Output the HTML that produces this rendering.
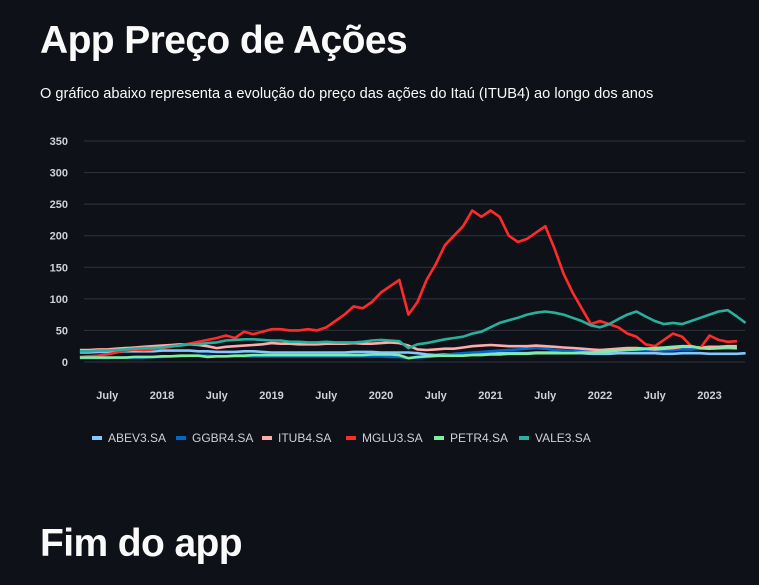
<!DOCTYPE html>
<html><head><meta charset="utf-8"><style>
body{margin:0;background:#0e1117;width:759px;height:585px;overflow:hidden;font-family:"Liberation Sans",sans-serif;color:#fafafa;position:relative}
h1{position:absolute;left:40px;margin:0;font-size:39px;font-weight:bold;letter-spacing:-0.6px}
#sub{position:absolute;left:40px;top:86px;font-size:14.6px}
svg{position:absolute;left:0;top:0}
</style></head><body>
<h1 style="top:19px">App Preço de Ações</h1>
<div id="sub">O gráfico abaixo representa a evolução do preço das ações do Itaú (ITUB4) ao longo dos anos</div>
<svg id="chart" width="759" height="585"></svg>
<h1 style="top:522px">Fim do app</h1>
<script>
const startYear = 2017.25; // monthly data from Apr 2017
const yTicks = [0,50,100,150,200,250,300,350];
const xTickLabels = ["July","2018","July","2019","July","2020","July","2021","July","2022","July","2023"];
const xTickDates = [2017.5,2018,2018.5,2019,2019.5,2020,2020.5,2021,2021.5,2022,2022.5,2023];
const seriesNames = ["ABEV3.SA","GGBR4.SA","ITUB4.SA","MGLU3.SA","PETR4.SA","VALE3.SA"];
const seriesColors = ["#83c9ff","#0068c9","#ffabab","#ff2b2b","#7defa1","#29b09d"];
const abev = [15,15,16,16,16,17,17,17,17,18,18,18,18,17,17,16,16,16,17,17,16,15,15,15,15,15,15,15,15,15,16,16,16,15,15,15,15,14,12,11,12,12,12,12,13,13,14,14,14,14,15,15,15,14,14,14,13,13,13,14,14,14,14,14,13,13,14,14,14,13,13,13,13,14];
const ggbr = [6,6,6,6,7,7,7,7,8,8,9,9,10,10,10,9,9,9,9,9,9,9,9,9,9,9,9,9,9,9,9,9,9,9,8,8,6,7,8,9,11,13,14,15,16,17,18,19,20,21,22,21,19,18,17,17,18,19,20,20,19,19,19,18,18,19,20,20,21,21,21,21,21];
const itub = [19,19,20,20,21,22,23,24,25,26,27,28,28,27,25,22,24,25,26,27,28,30,29,29,28,28,28,29,29,29,30,29,29,30,31,30,26,20,19,20,21,21,23,25,26,27,26,25,25,25,26,25,24,23,22,21,20,19,20,21,22,22,21,20,21,22,24,24,23,24,24,25,25];
const mglu = [8,9,10,12,15,18,20,19,20,22,24,27,29,32,35,38,42,38,48,44,48,52,52,50,50,52,50,55,65,75,88,85,95,110,120,130,75,95,130,155,185,200,215,240,230,240,230,200,190,195,205,215,180,140,110,85,60,65,60,55,45,40,28,25,35,45,40,25,22,42,35,32,33];
const petr = [7,7,7,7,7,7,8,8,8,9,9,10,10,10,8,9,9,10,10,11,11,11,11,11,11,11,11,11,11,11,11,11,12,12,12,11,6,8,9,10,10,10,10,11,11,12,12,13,13,13,14,14,14,14,14,15,15,16,17,18,19,20,21,22,23,24,25,25,22,21,22,23,22];
const vale = [17,17,18,18,19,20,21,22,22,23,25,26,28,28,30,31,34,35,36,36,35,34,34,32,32,31,31,32,31,31,31,32,34,35,34,33,22,28,30,33,36,38,40,45,48,55,62,66,70,75,78,80,78,75,70,65,58,55,60,68,75,80,72,65,60,62,60,65,70,75,80,82,72,62];
const seriesData = [abev,ggbr,itub,mglu,petr,vale];

const X0=84,X1=745,Y0=362,Ymax=350,Ytop=141;
const pxPerYear=109.5;
function xScale(t){return 162+(t-2018)*pxPerYear;}
function yScale(v){return Y0-(v/Ymax)*(Y0-Ytop);}
const NS="http://www.w3.org/2000/svg";
const svg=document.getElementById('chart');
function mk(tag,attrs){const e=document.createElementNS(NS,tag);for(const k in attrs)e.setAttribute(k,attrs[k]);svg.appendChild(e);return e;}
yTicks.forEach(v=>{
  const l=mk('line',{x1:X0,x2:X1,y1:yScale(v),y2:yScale(v),stroke:'#31333f','stroke-width':1});
  
  
  const t=mk('text',{x:68,y:yScale(v)+4,'text-anchor':'end',fill:'#d0d0d8','font-size':11,'font-weight':'bold','font-family':'Liberation Sans, sans-serif'});
  t.textContent=v;
  
  
});
xTickDates.forEach((d,i)=>{
  const t=mk('text',{x:xScale(d),y:399,'text-anchor':'middle',fill:'#d0d0d8','font-size':11,'font-weight':'bold','font-family':'Liberation Sans, sans-serif'});
  t.textContent=xTickLabels[i];
  
  
});
seriesData.forEach((arr,si)=>{
  const pts=arr.map((v,i)=>{const t=Math.min(startYear+i/12,2023.33);return xScale(t).toFixed(1)+','+yScale(v).toFixed(1);}).join(' ');
  const p=mk('polyline',{points:pts,fill:'none',stroke:seriesColors[si],'stroke-width':2.6,'stroke-linejoin':'round'});
  
  
});
const legendX=[92,176,262,346,434,519];
seriesNames.forEach((n,i)=>{
  const r=mk('rect',{x:legendX[i],y:436,width:10,height:4,fill:seriesColors[i]});
  
  
  const t=mk('text',{x:legendX[i]+16,y:442,fill:'#d0d0d8','font-size':12,'font-family':'Liberation Sans, sans-serif'});
  t.textContent=n;
  
  
});
</script>
</body></html>
